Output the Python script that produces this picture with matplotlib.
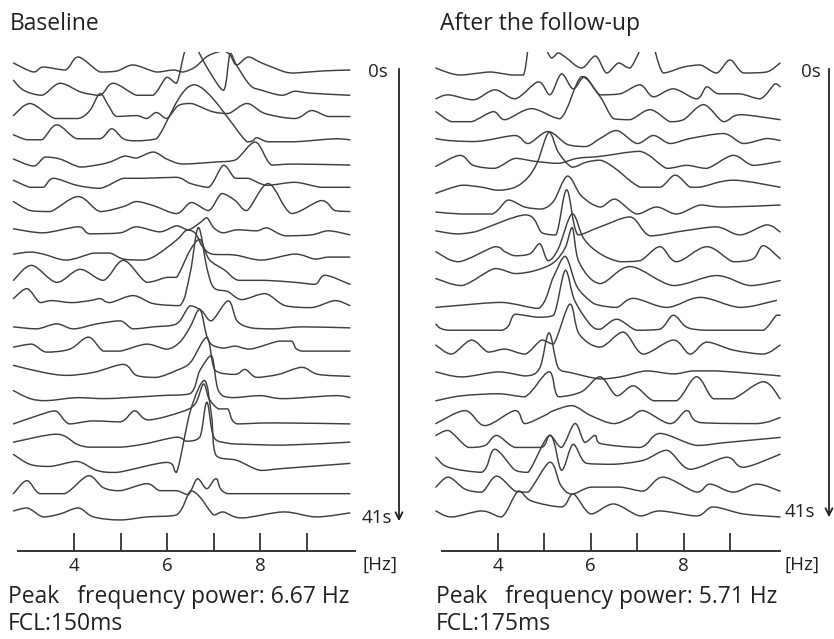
import matplotlib
matplotlib.use("Agg")
import matplotlib.pyplot as plt
from matplotlib.patches import FancyArrowPatch, PathPatch
from matplotlib.path import Path

W, H = 834, 639

# Each spectrum is a list of (Hz, power) vertices.
# Row 0 is 0 s (top), last row is 41 s (bottom).
baseline_spectra = [
    [(2.7, 12), (3.13, 3), (3.34, 8), (3.81, 5), (4.09, 18), (4.56, 3), (4.92, 4), (5.27, 10), (5.77, 3), (6.13, 5), (6.34, 3), (6.6, 8), (6.81, 17), (6.96, 21), (7.2, 24), (7.35, 20), (7.49, 10), (7.74, 18), (8.03, 12), (8.53, 3), (8.74, 2), (9.31, 4), (9.92, 5)],
    [(2.7, 18), (2.92, 8), (3.31, 3), (3.7, 15), (4.16, 6), (4.56, 3), (4.84, 15), (5.34, 3), (5.7, 3), (5.99, 21), (6.2, 15), (6.38, 47), (6.55, 55), (6.89, 28), (7.21, 8), (7.35, 45), (7.49, 33), (7.78, 13), (8.03, 8), (8.46, 3), (8.74, 7), (9.1, 5), (9.92, 3)],
    [(2.7, 6), (3.06, 18), (3.59, 3), (4.09, 3), (4.34, 11), (4.56, 28), (4.74, 16), (4.92, 5), (5.34, 6), (5.56, 3), (5.77, 9), (5.99, 3), (6.24, 16), (6.52, 18), (6.96, 10), (7.31, 8), (7.71, 18), (8.1, 8), (8.74, 3), (9.1, 11), (9.46, 5), (9.92, 5)],
    [(2.7, 10), (2.99, 5), (3.31, 5), (3.63, 20), (4.06, 6), (4.56, 6), (4.81, 16), (5.06, 6), (5.34, 4), (5.77, 6), (6.58, 60), (7.71, 3), (7.92, 7), (8.17, 3), (8.74, 3), (9.6, 6), (9.92, 5)],
    [(2.7, 9), (3.13, 2), (3.38, 11), (3.7, 9), (4.13, 1), (4.49, 3), (4.77, 6), (5.09, 12), (5.34, 10), (5.7, 16), (5.99, 9), (6.34, 4), (7.03, 6), (7.46, 8), (7.89, 26), (8.24, 3), (8.74, 4), (9.92, 3)],
    [(2.7, 11), (3.06, 4), (3.34, 4), (3.56, 13), (4.06, 6), (4.56, 3), (5.06, 13), (5.49, 13), (6.2, 14), (6.49, 8), (6.89, 4), (7.21, 26), (7.46, 13), (7.74, 13), (8.14, 6), (8.74, 9), (9.31, 4), (9.92, 4)],
    [(2.7, 13), (3.06, 4), (3.49, 3), (4.09, 18), (4.56, 3), (5.06, 8), (5.34, 13), (5.7, 9), (6.2, 1), (6.52, 12), (6.89, 4), (7.17, 21), (7.46, 14), (7.71, 4), (8.17, 31), (8.67, 1), (9.31, 14), (9.6, 4), (9.92, 3)],
    [(2.7, 9), (3.34, 5), (4.09, 11), (4.34, 4), (4.99, 5), (5.34, 11), (5.84, 6), (6.2, 12), (6.45, 8), (6.7, 15), (6.85, 20), (7.0, 10), (7.2, 5), (7.5, 8), (7.92, 7), (8.14, 10), (8.53, 2), (9.1, 3), (9.46, 7), (9.92, 3)],
    [(2.7, 7), (3.06, 9), (3.34, 7), (3.84, 1), (4.42, 8), (4.77, 8), (5.06, 2), (5.49, 1), (5.77, 6), (6.2, 21), (6.42, 31), (6.6, 28), (6.75, 15), (6.96, 7), (7.46, 6), (8.03, 1), (8.74, 7), (9.17, 2), (9.46, 4), (9.92, 4)],
    [(2.7, 4), (3.09, 19), (3.63, 2), (4.13, 15), (4.63, 4), (5.06, 24), (5.56, 2), (5.99, 7), (6.2, 7), (6.49, 34), (6.7, 45), (6.9, 25), (7.24, 14), (7.53, 4), (8.1, 4), (8.74, 2), (9.17, 0), (9.39, 9), (9.92, 0)],
    [(2.7, 9), (2.99, 19), (3.27, 5), (3.52, 7), (3.95, 5), (4.34, 7), (4.56, 9), (4.77, 5), (5.27, 12), (5.7, 4), (6.27, 2), (6.49, 34), (6.67, 80), (6.85, 40), (7.0, 20), (7.3, 16), (7.6, 8), (8.1, 14), (8.53, 2), (9.1, 0), (9.6, 7), (9.92, 2)],
    [(2.7, 4), (3.2, 2), (3.63, 7), (3.99, 2), (4.49, 7), (4.99, 10), (5.27, 2), (5.7, 4), (6.2, 7), (6.49, 25), (6.74, 20), (6.95, 10), (7.31, 30), (7.5, 10), (7.8, 3), (8.3, 2), (8.9, 4), (9.92, 3)],
    [(2.7, 7), (3.09, 10), (3.41, 2), (3.91, 5), (4.31, 17), (4.63, 3), (4.99, 3), (5.56, 10), (5.99, 5), (6.27, 12), (6.49, 27), (6.7, 45), (6.89, 13), (7.2, 6), (7.46, 8), (7.78, 5), (8.39, 13), (8.67, 13), (8.89, 3), (9.92, 3)],
    [(2.7, 12), (3.34, 5), (3.84, 2), (4.42, 5), (5.06, 13), (5.34, 2), (5.77, 0), (6.2, 7), (6.5, 15), (6.85, 40), (7.03, 7), (7.46, 3), (7.67, 8), (7.92, 0), (8.39, 3), (8.89, 10), (9.24, 3), (9.92, 1)],
    [(2.7, 10), (3.06, 2), (3.41, 0), (4.06, 3), (4.63, 2), (5.13, 3), (5.84, 5), (6.49, 7), (6.7, 30), (6.95, 45), (7.1, 10), (7.4, 3), (8.0, 5), (8.5, 2), (9.6, 5), (9.92, 3)],
    [(2.7, 0), (3.2, 8), (3.6, 13), (3.9, 0), (4.4, 3), (5.0, 2), (5.3, 13), (5.6, 4), (6.3, 12), (6.6, 20), (6.78, 40), (6.9, 25), (7.1, 15), (7.3, 15), (7.5, 0), (8.3, 1), (9.92, 0)],
    [(2.7, 5), (3.63, 13), (4.06, 3), (4.34, 0), (4.99, 0), (5.49, 3), (6.2, 10), (6.42, 6), (6.7, 10), (6.85, 45), (7.0, 10), (7.3, 4), (7.6, 3), (8.5, 2), (9.92, 5)],
    [(2.7, 16), (3.06, 6), (3.49, 4), (4.06, 9), (4.49, 0), (4.92, -2), (5.99, 8), (6.2, -2), (6.5, 60), (6.8, 90), (6.95, 55), (7.05, 15), (7.5, 10), (8.0, 0), (8.5, 2), (9.92, 7)],
    [(2.7, 0), (2.99, 13), (3.27, 0), (3.8, 0), (4.31, 18), (4.63, 6), (4.99, 3), (5.56, 10), (5.84, 3), (6.2, 3), (6.45, -1), (6.65, 15), (6.85, 5), (7.05, 15), (7.3, 0), (8.5, 0), (9.92, 0)],
    [(2.7, 6), (3.0, 9), (3.34, 0), (3.7, 3), (4.09, 9), (4.42, 0), (4.99, -3), (5.56, 0), (6.2, 2), (6.5, 26), (6.7, 20), (7.0, 2), (7.2, 5), (7.6, -1), (8.5, 5), (9.2, 0), (9.92, 4)],
]

followup_spectra = [
    [(2.66, 0), (2.95, -5), (3.2, -7), (3.6, -5), (3.85, -4), (4.3, -7), (4.55, -7), (4.7, 30), (4.95, 25), (5.15, 10), (5.3, 15), (5.45, 11), (5.8, 0), (6.1, 12), (6.34, -5), (6.6, 5), (6.85, 0), (7.25, 30), (7.56, -5), (8.0, 1), (8.36, 3), (8.71, -5), (9.0, 8), (9.29, -5), (9.79, -4), (10.08, 5)],
    [(2.66, -7), (2.93, -3), (3.47, -8), (3.93, 2), (4.37, -7), (4.87, 10), (5.12, -3), (5.37, 18), (5.62, 3), (5.87, 15), (6.2, -3), (6.63, -2), (7.06, 7), (7.35, -5), (7.78, 3), (8.28, -7), (8.5, 5), (8.75, -2), (9.22, -2), (9.65, -7), (9.97, 8), (10.08, 5)],
    [(2.66, 4), (3.0, -6), (3.43, -6), (3.9, 4), (4.15, -4), (4.72, 7), (5.34, -3), (5.8, 39), (6.2, 19), (6.49, -3), (6.85, -4), (7.28, 6), (7.71, -6), (8.0, -4), (8.43, 11), (8.86, -6), (9.22, 1), (10.08, -4)],
    [(2.66, 1), (2.93, -1), (3.43, -2), (3.72, -1), (4.37, 4), (4.65, -4), (5.08, 8), (5.5, -5), (5.9, -7), (6.2, 1), (6.56, 9), (7.0, -4), (7.35, 4), (7.71, -4), (8.14, 1), (8.86, 6), (9.29, -4), (9.79, 1), (10.08, -1)],
    [(2.66, -3), (3.18, 8), (3.47, -2), (3.93, -5), (4.37, 5), (4.8, 2), (5.3, 0), (5.7, 5), (6.2, 7), (7.06, 12), (7.64, -5), (8.07, -2), (8.5, -5), (9.07, 8), (9.5, -2), (10.08, 2)],
    [(2.66, -6), (3.22, 2), (3.65, 0), (4.0, -3), (4.37, 0), (4.65, 10), (4.85, 25), (5.1, 55), (5.3, 35), (5.6, 20), (5.9, 25), (6.2, 27), (6.49, 20), (7.06, 0), (7.5, 0), (7.82, 12), (8.14, 0), (8.36, 0), (9.07, 7), (10.08, 0)],
    [(2.66, -1), (3.22, -3), (3.87, -3), (4.22, 11), (4.58, 4), (4.94, 2), (5.2, 10), (5.5, 35), (5.8, 15), (6.2, 4), (6.52, 12), (6.99, -3), (7.42, 4), (7.85, -3), (8.36, 6), (8.86, 4), (10.08, 6)],
    [(2.66, 4), (3.1, 1), (3.5, 3), (4.6, 20), (4.95, 2), (5.25, 0), (5.48, 45), (5.72, 0), (6.2, 8), (6.85, 18), (7.28, -1), (8.0, 4), (8.71, 8), (9.22, 0), (9.79, 10), (10.08, 3)],
    [(2.66, 7), (3.15, -3), (3.93, 12), (4.15, 7), (4.37, 3), (4.69, 5), (4.9, 15), (5.08, -2), (5.3, 10), (5.6, 45), (5.85, 20), (6.2, 5), (6.63, -3), (7.06, -2), (7.49, 12), (7.85, -3), (8.5, 12), (9.07, -3), (9.5, 0), (9.72, 13), (10.08, 0)],
    [(2.66, 4), (3.22, -3), (3.93, 14), (4.37, 9), (4.8, 12), (5.2, 20), (5.45, 35), (5.6, 55), (5.75, 20), (6.2, -1), (6.85, 16), (7.78, -3), (8.71, 7), (9.43, -3), (10.08, 2)],
    [(2.66, -1), (3.15, 1), (4.08, 4), (4.87, -2), (5.2, 30), (5.45, 50), (5.7, 20), (6.0, 5), (6.2, 1), (6.56, -1), (6.92, 8), (7.64, -1), (8.36, 9), (9.22, -1), (10.0, 6)],
    [(2.66, 6), (2.93, 0), (4.08, 0), (4.37, 16), (4.87, 13), (5.2, 15), (5.45, 60), (5.65, 30), (6.0, 5), (6.2, 1), (6.56, 11), (6.99, 0), (7.49, 1), (7.78, 15), (8.07, 3), (8.5, 0), (9.36, 0), (9.72, 0), (10.0, 15), (10.08, 15)],
    [(2.66, 9), (3.0, 0), (3.43, 14), (3.79, 2), (4.15, 5), (4.58, 0), (4.94, 14), (5.2, 10), (5.55, 50), (5.75, 20), (6.2, 7), (6.7, 22), (7.13, 0), (7.78, 14), (8.14, 0), (8.5, 12), (9.07, 4), (9.72, 0), (10.08, 9)],
    [(2.66, 6), (3.22, 1), (4.01, 6), (4.6, 2), (4.9, 10), (5.1, 45), (5.3, 10), (5.6, 5), (6.2, -1), (6.63, 1), (7.2, 7), (7.78, 4), (8.2, 7), (8.71, 7), (9.58, 4), (10.08, 2)],
    [(2.66, 1), (3.22, 6), (4.01, 8), (4.58, 5), (5.1, 30), (5.3, 5), (5.8, 10), (6.2, 25), (6.56, 6), (6.92, 16), (7.35, 1), (7.85, 1), (8.28, 25), (8.64, 3), (9.07, 3), (9.72, 20), (10.08, 3)],
    [(2.66, 2), (3.29, 15), (3.72, 0), (4.37, 15), (4.58, 2), (5.0, 10), (5.2, 15), (5.6, 20), (6.0, 10), (6.49, 2), (6.85, 8), (7.13, 15), (7.71, 2), (8.07, 15), (8.36, 3), (9.58, 2), (10.08, 8)],
    [(2.66, 14), (2.93, 19), (3.36, 2), (3.72, 4), (3.97, 14), (4.37, 2), (4.94, 2), (5.12, 14), (5.37, 2), (5.66, 26), (5.87, 7), (6.09, 14), (6.2, 6), (7.06, 2), (7.49, 16), (8.28, 4), (8.93, 7), (10.08, 12)],
    [(2.66, 16), (2.93, 6), (3.65, 1), (3.93, 24), (4.37, 3), (4.65, 1), (5.12, 38), (5.37, 3), (5.62, 29), (5.9, 10), (6.49, 9), (7.13, 13), (7.64, 23), (8.14, 4), (8.93, 16), (9.29, 6), (10.08, 19)],
    [(2.66, 10), (2.93, 20), (3.29, 8), (3.65, 5), (3.97, 21), (4.37, 6), (4.65, 5), (5.12, 35), (5.35, 12), (5.59, 3), (6.0, 10), (6.63, 10), (7.13, 6), (7.56, 20), (8.28, 5), (8.57, 13), (9.07, 5), (9.58, 13), (10.08, 6)],
    [(2.66, 10), (3.0, 4), (3.65, 10), (4.08, 4), (4.44, 30), (4.72, 20), (5.37, 14), (5.62, 27), (6.0, 7), (6.49, 17), (7.06, 5), (7.49, 10), (8.28, 5), (8.64, 14), (9.29, 7), (10.08, 4)],
]

panel_titles = ["Baseline", "After the follow-up"]
peak_freqs = [6.67, 5.71]
fcl_ms = [150, 175]
major_ticks = [4, 6, 8]
minor_ticks = [5, 7, 9]

# pixel layout of each panel: x of 4 Hz, px per Hz, first row, row step, labels, arrow
panels = [
    dict(spectra=baseline_spectra, x4=74, pph=46.6, row0=75, step=23.26,
         box=(5, 380), axis=(18, 355), text_x=8, title_x=10,
         arrow_x=399, arrow=(66, 524), s0=(368, 72), s41=(362, 518), hz_x=362),
    dict(spectra=followup_spectra, x4=498, pph=46.4, row0=68, step=23.84,
         box=(425, 790), axis=(442, 780), text_x=436, title_x=440,
         arrow_x=829, arrow=(66, 520), s0=(801, 72), s41=(785, 512), hz_x=785),
]


def clamp(v, a, b):
    return max(min(a, b), min(max(a, b), v))


def smooth_path(xs, ys, k=1 / 6):
    # rounded line through the vertices, control points kept inside each segment
    # so the curve never overshoots a read value
    verts = [(xs[0], ys[0])]
    codes = [Path.MOVETO]
    n = len(xs)
    for j in range(n - 1):
        xa, ya = (xs[j - 1], ys[j - 1]) if j > 0 else (xs[j], ys[j])
        xd, yd = (xs[j + 2], ys[j + 2]) if j + 2 < n else (xs[j + 1], ys[j + 1])
        xb, yb, xc, yc = xs[j], ys[j], xs[j + 1], ys[j + 1]
        c1 = (clamp(xb + (xc - xa) * k, xb, xc), clamp(yb + (yc - ya) * k, yb, yc))
        c2 = (clamp(xc - (xd - xb) * k, xb, xc), clamp(yc - (yd - yb) * k, yb, yc))
        verts += [c1, c2, (xc, yc)]
        codes += [Path.CURVE4] * 3
    return Path(verts, codes)


plt.rcParams["font.family"] = ["Open Sans", "DejaVu Sans"]
fig = plt.figure(figsize=(W / 100, H / 100), dpi=100)

top_px, bot_px = 52, 600
axis_y = 551
tick_px = 18
ink = "#222222"

for p, title, pk, fcl in zip(panels, panel_titles, peak_freqs, fcl_ms):
    x0, x1 = p["box"]
    ax = fig.add_axes([x0 / W, 1 - bot_px / H, (x1 - x0) / W, (bot_px - top_px) / H])
    to_hz = lambda px, p=p: 4 + (px - p["x4"]) / p["pph"]
    ax.set_xlim(to_hz(x0), to_hz(x1))
    ax.set_ylim(-bot_px, -top_px)
    for i, spec in enumerate(p["spectra"]):
        f = [v[0] for v in spec]
        base = p["row0"] + i * p["step"]
        pw = [v[1] - base for v in spec]
        ax.add_patch(PathPatch(smooth_path(f, pw), fill=False, edgecolor="#404040",
                               lw=1.05, joinstyle="round", capstyle="round"))
    for s in ["top", "right", "left"]:
        ax.spines[s].set_visible(False)
    ax.spines["bottom"].set_position(("data", -axis_y))
    ax.spines["bottom"].set_bounds(to_hz(p["axis"][0]), to_hz(p["axis"][1]))
    ax.spines["bottom"].set_linewidth(1.4)
    ax.spines["bottom"].set_color("#333333")
    ax.set_yticks([])
    ax.set_xticks(major_ticks)
    ax.set_xticklabels([str(t) for t in major_ticks])
    ax.set_xticks(minor_ticks, minor=True)
    ax.tick_params(axis="x", which="both", direction="in", length=tick_px * 0.72,
                   width=1.3, color="#333333", pad=4, labelsize=13.5,
                   labelcolor=ink)
    ax.patch.set_alpha(0)

    fig.text(p["title_x"] / W, 1 - 24 / H, title, fontsize=16.5,
             color=ink, va="center", ha="left")
    fig.text(p["text_x"] / W, 1 - 597 / H, f"Peak   frequency power: {pk} Hz",
             fontsize=16.5, color=ink, va="center", ha="left")
    fig.text(p["text_x"] / W, 1 - 624 / H, f"FCL:{fcl}ms",
             fontsize=16.5, color=ink, va="center", ha="left")
    fig.text(p["s0"][0] / W, 1 - p["s0"][1] / H, "0s", fontsize=13.5,
             color=ink, va="center", ha="left")
    fig.text(p["s41"][0] / W, 1 - p["s41"][1] / H, "41s", fontsize=13.5,
             color=ink, va="center", ha="left")
    fig.text(p["hz_x"] / W, 1 - 565 / H, "[Hz]", fontsize=13.5,
             color=ink, va="center", ha="left")
    ay0, ay1 = p["arrow"]
    fig.add_artist(FancyArrowPatch((p["arrow_x"] / W, 1 - ay0 / H),
                                   (p["arrow_x"] / W, 1 - ay1 / H),
                                   transform=fig.transFigure,
                                   arrowstyle="->,head_length=5,head_width=2.5",
                                   color=ink, lw=1.3))

fig.savefig("out.png", dpi=100)
